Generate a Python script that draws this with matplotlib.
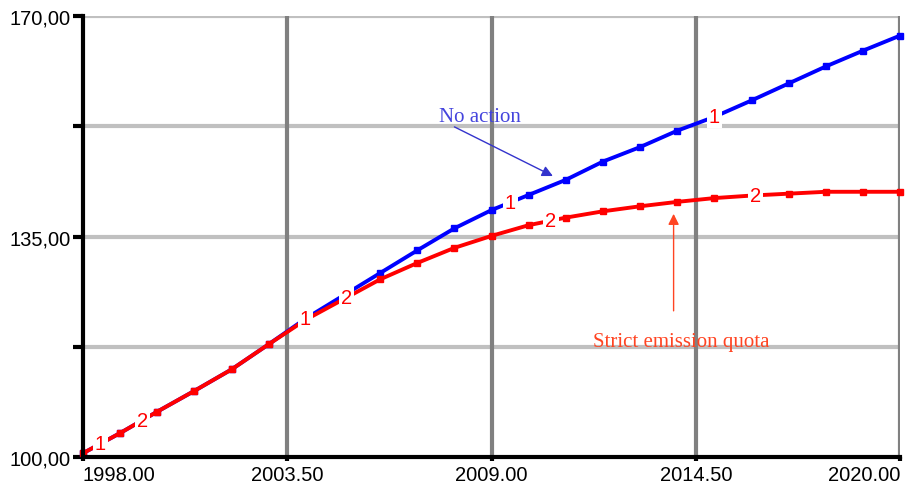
import numpy as np
import matplotlib
matplotlib.use("Agg")
import matplotlib.pyplot as plt

# ---------- Data ----------
years = [1998, 1999, 2000, 2001, 2002, 2003, 2004, 2005, 2006, 2007, 2008,
         2009, 2010, 2011, 2012, 2013, 2014, 2015, 2016, 2017, 2018, 2019, 2020]
no_action = [100.6, 103.8, 107.2, 110.5, 113.9, 117.9, 122.0, 125.6, 129.2, 132.8, 136.3,
             139.2, 141.6, 144.0, 146.9, 149.2, 151.8, 154.0, 156.6, 159.3, 162.0, 164.5, 166.9]
strict_quota = [100.6, 103.8, 107.2, 110.5, 113.9, 117.9, 121.8, 125.0, 128.2, 130.8, 133.2,
                135.1, 136.8, 138.0, 139.0, 139.8, 140.5, 141.1, 141.5, 141.8, 142.1, 142.1, 142.1]

x_ticks = [1998.0, 2003.5, 2009.0, 2014.5, 2020.0]
x_tick_labels = ["1998.00", "2003.50", "2009.00", "2014.50", "2020.00"]
y_ticks = [100, 117.5, 135, 152.5, 170]
y_tick_labels = ["100,00", "", "135,00", "", "170,00"]

label1_years = [1998.46, 2003.98, 2009.5, 2015.0]
label2_years = [1999.6, 2005.1, 2010.6, 2016.1]
# ---------------------------------------------------

plt.rcParams["font.family"] = ["Liberation Sans", "DejaVu Sans"]

fig = plt.figure(figsize=(9.09, 4.89), dpi=100)
ax = fig.add_axes([0.0913, 0.0634, 0.899, 0.9018])

# grid
for y in y_ticks[1:]:
    ax.axhline(y, color="#c0c0c0", lw=3, zorder=1)
for x in x_ticks[1:]:
    ax.axvline(x, color="#808080", lw=3, zorder=1)

ax.plot(years, no_action, color="#0000ff", lw=2.8, marker="s", ms=4.5, zorder=3, clip_on=False)
ax.plot(years, strict_quota, color="#ff0000", lw=2.8, marker="s", ms=4.5, zorder=4, clip_on=False)

# series number labels sitting on the lines
for yr in label1_years:
    ax.text(yr, np.interp(yr, years, no_action), "1", color="#ff0000", fontsize=14.5,
            ha="center", va="center", zorder=6,
            bbox=dict(facecolor="white", edgecolor="none", pad=1.5))
for yr in label2_years:
    ax.text(yr, np.interp(yr, years, strict_quota), "2", color="#ff0000", fontsize=14.5,
            ha="center", va="center", zorder=6,
            bbox=dict(facecolor="white", edgecolor="none", pad=1.5))

# annotations
ax.text(2008.69, 154.0, "No action", color="#4444dd", fontsize=15,
        family=["Liberation Serif"], ha="center", va="center", zorder=7)
ax.annotate("", xy=(2010.65, 144.6), xytext=(2008.0, 152.4), zorder=7,
            arrowprops=dict(arrowstyle="-|>", color="#3333cc", lw=1,
                            mutation_scale=16, shrinkA=0, shrinkB=0))
ax.annotate("", xy=(2013.9, 138.6), xytext=(2013.9, 123.2), zorder=7,
            arrowprops=dict(arrowstyle="-|>", color="#ff4422", lw=1,
                            mutation_scale=16, shrinkA=0, shrinkB=0))
ax.text(2014.1, 118.4, "Strict emission quota", color="#ff4422", fontsize=15,
        family=["Liberation Serif"], ha="center", va="center", zorder=7)

ax.set_xlim(1998, 2020)
ax.set_ylim(100, 170)
ax.set_xticks(x_ticks)
ax.set_xticklabels(x_tick_labels, fontsize=14.5)
ax.get_xticklabels()[0].set_ha("left")
ax.get_xticklabels()[-1].set_ha("right")
ax.set_yticks(y_ticks)
ax.set_yticklabels(y_tick_labels, fontsize=14.5)
ax.tick_params(axis="y", length=7, width=3, color="black", pad=2)
ax.tick_params(axis="x", length=3, width=3, color="black", pad=3)

for side in ["top", "right"]:
    ax.spines[side].set_visible(False)
for side in ["left", "bottom"]:
    ax.spines[side].set_linewidth(3)
    ax.spines[side].set_zorder(8)

fig.savefig("out.png", dpi=100)
